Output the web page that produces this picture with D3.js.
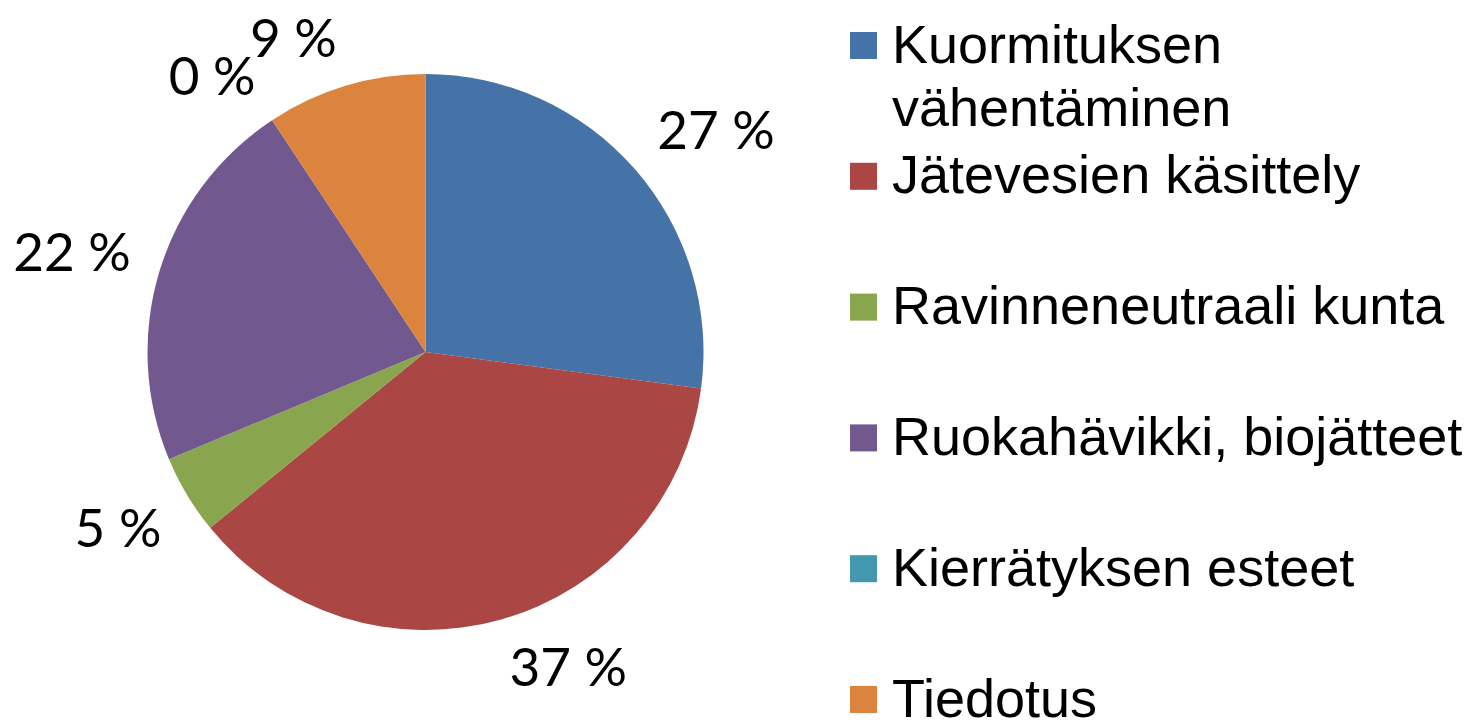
<!DOCTYPE html>
<html>
<head>
<meta charset="utf-8">
<script src="https://cdn.jsdelivr.net/npm/d3@7"></script>
<style>
  html, body { margin: 0; padding: 0; background: #fff; }
  svg { display: block; }
</style>
</head>
<body>
<svg id="chart" width="1481" height="723"></svg>
<script>
const categories = [
  ["Kuormituksen", "vähentäminen"],
  ["Jätevesien käsittely"],
  ["Ravinneneutraali kunta"],
  ["Ruokahävikki, biojätteet"],
  ["Kierrätyksen esteet"],
  ["Tiedotus"]
];
const values = [27.1, 37.0, 4.6, 22.0, 0, 9.3];
const colors = ["#4572A7", "#AA4643", "#89A54E", "#71588F", "#4198AF", "#DB843D"];

const svg = d3.select("#chart");
const W = 1481, H = 723;
const cx = 425.5, cy = 352, r = 278;

const pie = d3.pie().sort(null).value(d => d)(values);
const arc = d3.arc().innerRadius(0).outerRadius(r);

const g = svg.append("g").attr("transform", `translate(${cx},${cy})`);
g.selectAll("path.slice").data(pie).join("path")
  .attr("class", "slice")
  .attr("d", arc)
  .attr("fill", (d, i) => colors[i]);

// data labels (outside end)
const labelFont = 53;
const capH = labelFont * 0.72;
const lblR = r + 30;
const labels = g.selectAll("text.lbl").data(pie).join("text")
  .attr("class", "lbl")
  .attr("font-family", "Lato, 'Open Sans', sans-serif")
  .attr("font-size", labelFont)
  .attr("fill", "#000")
  .attr("text-anchor", "middle")
  .text(d => Math.round(d.data) + " %");

labels.each(function(d) {
  const a = (d.startAngle + d.endAngle) / 2;
  const s = Math.sin(a), c = Math.cos(a);
  const w = this.getComputedTextLength();
  const px = lblR * s, py = -lblR * c;
  const sx = Math.abs(s) < 0.08 ? 0 : Math.sign(s);
  const sy = Math.max(-1, Math.min(1, c * 1.8));
  const lx = px + sx * w / 2;
  const ly = py - sy * capH / 2;
  d3.select(this).attr("x", lx).attr("y", ly + capH / 2);
});

// legend
const legFont = 54;
const legX = 850, sq = 27, textX = 892;
const rowStart = 45.5, rowStep = 130.8, lineH = 63;
const leg = svg.append("g");
categories.forEach((lines, i) => {
  const yc = rowStart + i * rowStep;
  leg.append("rect")
    .attr("x", legX).attr("y", yc - sq / 2)
    .attr("width", sq).attr("height", sq)
    .attr("fill", colors[i]);
  const t = leg.append("text")
    .attr("font-family", "'Liberation Sans', Arial, sans-serif")
    .attr("font-size", legFont)
    .attr("fill", "#000");
  lines.forEach((ln, j) => {
    t.append("tspan").attr("x", textX).attr("y", yc + 17 + j * lineH).text(ln);
  });
});
</script>
</body>
</html>
